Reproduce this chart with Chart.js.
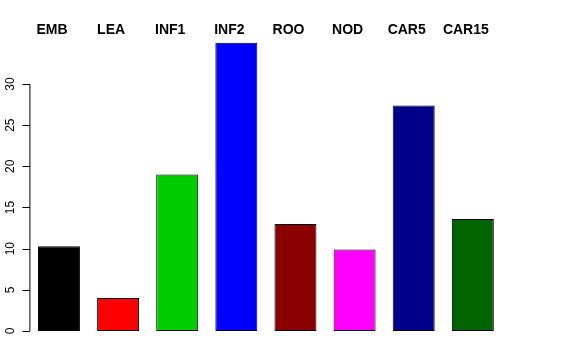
<!DOCTYPE html>
<html>
<head>
<meta charset="utf-8">
<script src="https://cdn.jsdelivr.net/npm/chart.js@4"></script>
<style>
  html, body { margin: 0; padding: 0; background: #fff; }
  #wrap { width: 576px; height: 360px; }
</style>
</head>
<body>
<div id="wrap"><canvas id="barChart" width="576" height="360"></canvas></div>
<script>
const categories = ["EMB", "LEA", "INF1", "INF2", "ROO", "NOD", "CAR5", "CAR15"];
const values = [10.3, 4.0, 19.0, 35.0, 13.0, 9.9, 27.4, 13.6];
const barColors = ["#000000", "#FF0000", "#00CD00", "#0000FF", "#8B0000", "#FF00FF", "#00008B", "#006400"];
const yTicks = [0, 5, 10, 15, 20, 25, 30];

// R-style axis on the left plus bold labels above the bars
const rAxes = {
  id: "rAxes",
  afterDraw(chart) {
    const { ctx, chartArea, scales } = chart;
    const y = scales.y, x = scales.x;
    const left = chartArea.left;
    ctx.save();
    ctx.strokeStyle = "#000";
    ctx.lineWidth = 1;
    ctx.beginPath();
    ctx.moveTo(left + 0.5, y.getPixelForValue(yTicks[0]));
    ctx.lineTo(left + 0.5, y.getPixelForValue(yTicks[yTicks.length - 1]));
    yTicks.forEach(t => {
      const py = Math.round(y.getPixelForValue(t)) + 0.5;
      ctx.moveTo(left + 0.5, py);
      ctx.lineTo(left - 7, py);
    });
    ctx.stroke();

    ctx.fillStyle = "#000";
    ctx.font = "12px 'Liberation Sans', Arial, sans-serif";
    ctx.textAlign = "center";
    ctx.textBaseline = "middle";
    yTicks.forEach(t => {
      ctx.save();
      ctx.translate(left - 19, y.getPixelForValue(t));
      ctx.rotate(-Math.PI / 2);
      ctx.fillText(String(t), 0, 0);
      ctx.restore();
    });

    ctx.font = "bold 14px 'Liberation Sans', Arial, sans-serif";
    ctx.textBaseline = "alphabetic";
    categories.forEach((c, i) => {
      ctx.fillText(c, x.getPixelForValue(i) - 7, 34);
    });
    ctx.restore();
  }
};

new Chart(document.getElementById("barChart"), {
  type: "bar",
  data: {
    labels: categories,
    datasets: [{
      data: values,
      backgroundColor: barColors,
      borderColor: "#000",
      borderWidth: 1,
      borderSkipped: false,
      barPercentage: 0.71,
      categoryPercentage: 1
    }]
  },
  options: {
    responsive: false,
    animation: false,
    layout: { padding: { left: 29.4, right: 73.6, top: 31.3, bottom: 17.5 } },
    plugins: { legend: { display: false }, tooltip: { enabled: false } },
    scales: {
      x: { display: false, offset: true },
      y: { display: false, min: -1.4, max: 36.4 }
    }
  },
  plugins: [rAxes]
});
</script>
</body>
</html>
